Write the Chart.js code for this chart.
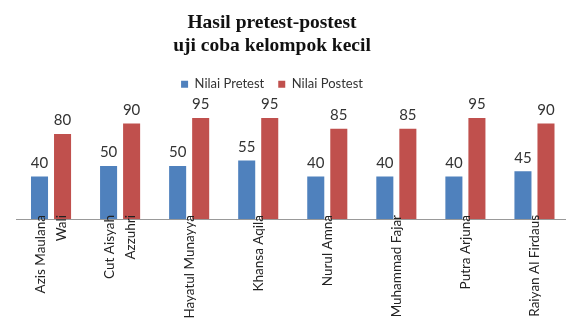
<!DOCTYPE html>
<html>
<head>
<meta charset="utf-8">
<script src="https://cdn.jsdelivr.net/npm/chart.js@4/dist/chart.umd.min.js"></script>
<style>
  html, body { margin: 0; padding: 0; background: #fff; overflow: hidden; }
  #chart { position: absolute; left: -25px; top: 0; }
</style>
</head>
<body>
<canvas id="chart" width="596" height="324"></canvas>
<script>
const students = [
    ["Azis Maulana", "Wali"],
    ["Cut Aisyah", "Azzuhri"],
    "Hayatul Munayya",
    "Khansa Aqila",
    "Nurul Amna",
    "Muhammad Fajar",
    "Putra Arjuna",
    "Raiyan Al Firdaus",
];
const pretest = [40, 50, 50, 55, 40, 40, 40, 45];
const postest = [80, 90, 95, 95, 85, 85, 95, 90];

const halfLine = 10.5; // half the spacing between two label lines

// draws the value above each bar
const valueLabels = {
    id: "valueLabels",
    afterDatasetsDraw(chart) {
        const ctx = chart.ctx;
        ctx.save();
        ctx.font = "15px Lato";
        ctx.fillStyle = "#333";
        ctx.textAlign = "center";
        ctx.textBaseline = "bottom";
        chart.data.datasets.forEach((ds, i) => {
            chart.getDatasetMeta(i).data.forEach((bar, j) => {
                ctx.fillText(ds.data[j], bar.x, bar.y - 6);
            });
        });
        ctx.restore();
    },
};

// extra room between the legend and the plot
const legendGap = {
    id: "legendGap",
    beforeInit(chart) {
        const fit = chart.legend.fit;
        chart.legend.fit = function () {
            fit.bind(chart.legend)();
            this.height += 12;
        };
    },
    // let the names run up over the bars a little (no clipping to the axis box)
    afterLayout(chart) {
        chart.scales.x._computeLabelArea = () => null;
    },
};

new Chart(document.getElementById("chart"), {
    type: "bar",
    data: {
        labels: students,
        datasets: [
            {
                label: "Nilai Pretest",
                data: pretest,
                backgroundColor: "#4F81BD",
            },
            {
                label: "Nilai Postest",
                data: postest,
                backgroundColor: "#C0504D",
            },
        ],
    },
    options: {
        responsive: false,
        animation: false,
        categoryPercentage: 0.667,
        barPercentage: 0.74,
        layout: {
            padding: { left: 0, right: 2, top: 11 },
        },
        scales: {
            // invisible axis, only used to shift the plot so the title sits left of its centre
            y: {
                min: 0,
                max: 100,
                grid: { display: false },
                border: { display: false },
                ticks: { display: false },
                afterFit(scale) {
                    scale.width = 41.5;
                },
            },
            x: {
                grid: { display: false },
                border: { display: true, color: "#999", width: 1, z: 1 },
                ticks: {
                    z: 1,
                    minRotation: 90,
                    maxRotation: 90,
                    autoSkip: false,
                    padding: -12,
                    labelOffset: -halfLine,
                    color: "#222",
                    font: { family: "Lato", size: 13.5, lineHeight: halfLine + "px" },
                    // centre the one- and two-line names on their group
                    callback: function (value, index) {
                        const name = students[index];
                        return Array.isArray(name) ? [name[0], "", name[1]] : ["", name];
                    },
                },
                afterFit(scale) {
                    scale.height = 105;
                },
            },
        },
        plugins: {
            title: {
                display: true,
                text: ["Hasil pretest-postest", "uji coba kelompok kecil"],
                color: "#111",
                font: { family: "Liberation Serif", size: 19.5, weight: "bold", lineHeight: 1.2 },
                padding: { top: 0, bottom: 6 },
            },
            legend: {
                labels: {
                    boxWidth: 7,
                    boxHeight: 7,
                    color: "#333",
                    font: { family: "Lato", size: 13 },
                    padding: 14,
                },
            },
            tooltip: { enabled: false },
        },
    },
    plugins: [valueLabels, legendGap],
});
</script>
</body>
</html>
